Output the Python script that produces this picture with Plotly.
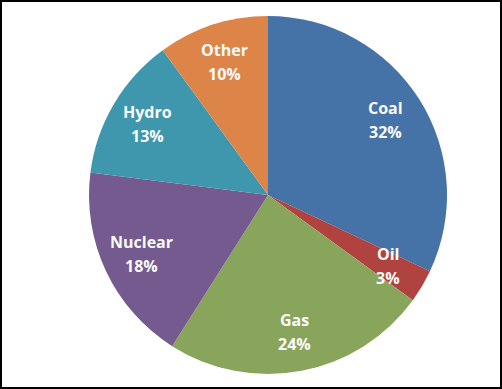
import math
import plotly.graph_objects as go

categories = ["Coal", "Oil", "Gas", "Nuclear", "Hydro", "Other"]
shares = [32, 3, 24, 18, 13, 10]
colors = ["#4572A7", "#B0433F", "#89A55B", "#745A8E", "#3E97AD", "#DD8548"]

W, H = 502, 389
cx, cy, r = 268, 195, 179
label_frac = 0.78

fig = go.Figure(go.Pie(
    labels=categories,
    values=shares,
    sort=False,
    direction="clockwise",
    rotation=0,
    marker=dict(colors=colors, line=dict(width=0)),
    textinfo="none",
    showlegend=False,
    hoverinfo="label+percent",
    domain=dict(x=[(cx - r) / W, (cx + r) / W], y=[(H - cy - r) / H, (H - cy + r) / H]),
))

# labels placed at each slice's mid-angle, derived from the data
total = sum(shares)
annotations = []
cum = 0
for name, v in zip(categories, shares):
    mid = (cum + v / 2) / total * 2 * math.pi
    cum += v
    px = cx + label_frac * r * math.sin(mid)
    py = cy - label_frac * r * math.cos(mid)
    xp = px / W
    yp = (H - py) / H
    for txt, ys in ((name, 12), (f"{v}%", -12)):
        annotations.append(dict(
            x=xp, y=yp, xref="paper", yref="paper", text=f"<b>{txt}</b>",
            showarrow=False, yshift=ys, xanchor="center", yanchor="middle",
            font=dict(family="Open Sans", size=16, color="#FAFAFA"),
        ))

fig.update_layout(
    width=W, height=H,
    margin=dict(l=0, r=0, t=0, b=0),
    paper_bgcolor="white",
    annotations=annotations,
    shapes=[dict(type="rect", xref="paper", yref="paper", x0=0, x1=1, y0=0, y1=1,
                 line=dict(color="#000000", width=4))],
)

fig.write_html("out.html", config={"displayModeBar": False},
               post_script="document.body.style.margin='0';")
